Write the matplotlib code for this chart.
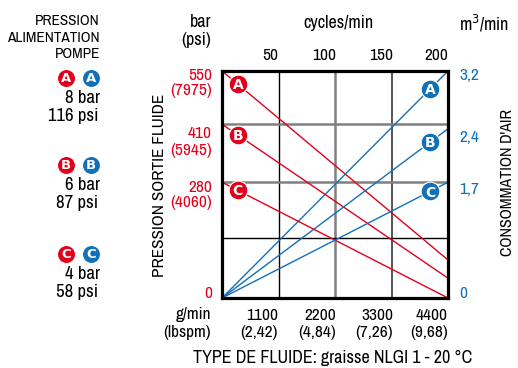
import numpy as np
import matplotlib.pyplot as plt
import matplotlib.font_manager as fm

# police etroite si disponible
narrow = [f.name for f in fm.fontManager.ttflist if 'Narrow' in f.name]
plt.rcParams['font.family'] = narrow[:1] + ['DejaVu Sans']
plt.rcParams['font.stretch'] = 'condensed'

RED = '#e2001a'
BLUE = '#1270b8'

# axe du bas : debit de graisse et cadence
flow_ticks = [1100, 2200, 3300, 4400]
lbspm_ticks = ['(2,42)', '(4,84)', '(7,26)', '(9,68)']
cycle_ticks = [50, 100, 150, 200]

# axe gauche : pression sortie fluide (bar / psi)
press_ticks = [0, 280, 410, 550]
psi_ticks = ['', '(4060)', '(5945)', '(7975)']
# axe droit : consommation d'air m3/min
air_ticks = [0, 1.7, 2.4, 3.2]
air_labels = ['0', '1,7', '2,4', '3,2']

# niveaux des lignes de grille (echelle non lineaire)
grid_levels = [0, 2.04, 3.07, 4]

# courbes
flow = [0, 4400]
press_A = [550, 92]
press_B = [409, 48]
press_C = [280, 0]
air_A = [0, 3.2]
air_B = [0, 2.34]
air_C = [0, 1.7]

curves = ['A', 'B', 'C']
supply_bar = ['8 bar', '6 bar', '4 bar']
supply_psi = ['116 psi', '87 psi', '58 psi']


def px(v):
    return np.asarray(v) / 1100.0


def py_press(v):
    return np.interp(v, press_ticks, grid_levels)


def py_air(v):
    return np.interp(v, air_ticks, grid_levels)


fig = plt.figure(figsize=(5.18, 3.68), dpi=100)

# calque pour les textes en coordonnees pixels
ov = fig.add_axes([0, 0, 1, 1])
ov.set_xlim(0, 518)
ov.set_ylim(368, 0)
ov.axis('off')

ax = fig.add_axes([222/518, 70/368, 226/518, 227/368])
ax.set_xlim(0, 4)
ax.set_ylim(0, 4)
ax.set_xticks([])
ax.set_yticks([])
for s in ax.spines.values():
    s.set_linewidth(2.3)
    s.set_zorder(10)

# grille
for x, c, w in zip([1, 2, 3], ['black', 'gray', '#555555'], [1.0, 1.8, 1.4]):
    ax.axvline(x, color=c, lw=w, zorder=1)
for y in grid_levels[1:3]:
    ax.axhline(y, color='gray', lw=1.8, zorder=1)
ax.axhline(1.05, color='black', lw=1.0, zorder=1)

press = [press_A, press_B, press_C]
air = [air_A, air_B, air_C]
for name, p, a in zip(curves, press, air):
    xs = px(flow)
    ys = py_press(p)
    ax.plot(xs, ys, color=RED, lw=1.0, zorder=3)
    xb = 0.28
    yb = np.interp(xb, xs, ys)
    ax.plot(xb, yb, 'o', ms=13.5, color=RED, mec='white', mew=0.8, zorder=5)
    ax.text(xb, yb - 0.02, name, color='white', fontsize=10, fontweight='bold',
            ha='center', va='center', family='DejaVu Sans', stretch='normal', zorder=6)

    ys = py_air(a)
    ax.plot(xs, ys, color=BLUE, lw=1.0, zorder=3)
    xb = 3.68
    yb = np.interp(xb, xs, ys)
    ax.plot(xb, yb, 'o', ms=13.5, color=BLUE, mec='white', mew=0.8, zorder=5)
    ax.text(xb, yb - 0.02, name, color='white', fontsize=10, fontweight='bold',
            ha='center', va='center', family='DejaVu Sans', stretch='normal', zorder=6)

fs = 12.5
# libelles de l'axe gauche
ov.text(211, 22, 'bar', ha='right', va='center', fontsize=13)
ov.text(211, 40, '(psi)', ha='right', va='center', fontsize=13)
label_y = [293, 187, 134, 75]
for v, p, y in zip(press_ticks, psi_ticks, label_y):
    ov.text(212, y, str(v), ha='right', va='center', fontsize=fs, color=RED)
    if p:
        ov.text(212, y + 16, p, ha='right', va='center', fontsize=fs, color=RED)

# axe droit
ov.text(459, 23, 'm$^3$/min', ha='left', va='center', fontsize=13)
air_y = [293, 189, 138, 75]
for lab, y in zip(air_labels, air_y):
    ov.text(459, y, lab, ha='left', va='center', fontsize=fs, color=BLUE)

# axe du haut
ov.text(338, 23, 'cycles/min', ha='center', va='center', fontsize=13)
grid_x = [278, 336, 393, 448]
for c, x in zip(cycle_ticks, grid_x):
    ov.text(x, 56, str(c), ha='right', va='center', fontsize=fs)

# axe du bas
ov.text(211, 315, 'g/min', ha='right', va='center', fontsize=fs)
ov.text(211, 332, '(lbspm)', ha='right', va='center', fontsize=fs)
for f, l, x in zip(flow_ticks, lbspm_ticks, grid_x):
    ov.text(x, 315, str(f), ha='right', va='center', fontsize=fs)
    ov.text(x, 332, l, ha='right', va='center', fontsize=fs)

ov.text(333, 358, 'TYPE DE FLUIDE: graisse NLGI 1 - 20 °C', ha='center',
        va='center', fontsize=13)
ov.text(160, 185, 'PRESSION SORTIE FLUIDE', rotation=90, ha='center',
        va='center', fontsize=12.3)
ov.text(508, 183, "CONSOMMATION D'AIR", rotation=90, ha='center',
        va='center', fontsize=11.5)

# legende de gauche
for i, t in enumerate(['PRESSION', 'ALIMENTATION', 'POMPE']):
    ov.text(100, 21 + 16.5 * i, t, ha='right', va='center', fontsize=11)
badge_y = [78, 165, 254]
for name, b, p, y in zip(curves, supply_bar, supply_psi, badge_y):
    for xc, col in [(66, RED), (91, BLUE)]:
        ov.plot(xc, y, 'o', ms=13, color=col, mec='white', mew=0.8)
        ov.text(xc, y + 0.5, name, color='white', fontsize=9.5, fontweight='bold',
                ha='center', va='center', family='DejaVu Sans', stretch='normal')
    ov.text(100, y + 20, b, ha='right', va='center', fontsize=13.5)
    ov.text(98, y + 38, p, ha='right', va='center', fontsize=13.5)

fig.savefig('out.png', dpi=100)
